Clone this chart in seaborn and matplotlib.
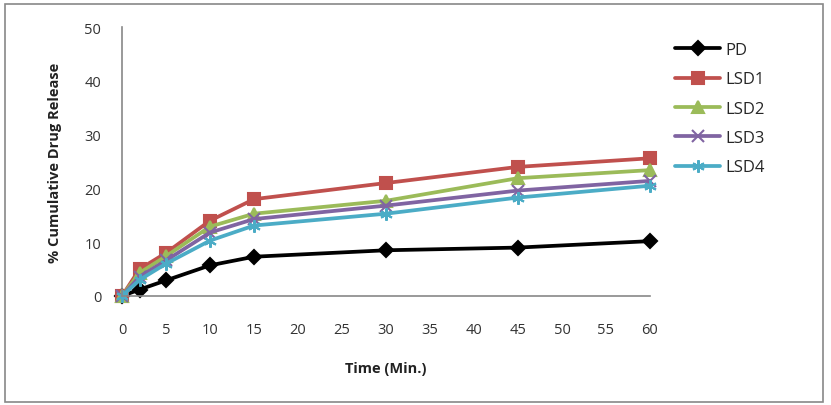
import pandas as pd
import matplotlib.pyplot as plt
import matplotlib.patches as mpatches
import seaborn as sns

# 時間 (分) と各製剤の累積薬物放出率
time_min = [0, 2, 5, 10, 15, 30, 45, 60]
pd_rel = [0, 1.2, 2.9, 5.7, 7.3, 8.5, 9.0, 10.2]
lsd1 = [0, 5.0, 8.0, 14.0, 18.0, 21.0, 24.0, 25.6]
lsd2 = [0, 4.3, 7.4, 12.9, 15.3, 17.7, 21.9, 23.4]
lsd3 = [0, 3.6, 6.6, 11.8, 14.3, 16.8, 19.6, 21.4]
lsd4 = [0, 3.0, 6.0, 10.3, 13.1, 15.3, 18.3, 20.5]

series = {"PD": pd_rel, "LSD1": lsd1, "LSD2": lsd2, "LSD3": lsd3, "LSD4": lsd4}
colors = {"PD": "#000000", "LSD1": "#C0504D", "LSD2": "#9BBB59",
          "LSD3": "#8064A2", "LSD4": "#4BACC6"}
markers = {"PD": "D", "LSD1": "s", "LSD2": "^", "LSD3": "x", "LSD4": (6, 2, 0)}
msizes = {"PD": 7, "LSD1": 9, "LSD2": 8, "LSD3": 8, "LSD4": 9}

rows = []
for name, vals in series.items():
    for t, v in zip(time_min, vals):
        rows.append({"Time": t, "Release": v, "Formulation": name})
data = pd.DataFrame(rows)

sns.set_style("white")
plt.rcParams["font.family"] = ["Open Sans", "DejaVu Sans"]

fig = plt.figure(figsize=(8.31, 4.06), dpi=100)
ax = fig.add_axes([122 / 831, 1 - 297 / 406, (650 - 122) / 831, (297 - 28) / 406])

for name in series:
    sub = data[data["Formulation"] == name]
    sns.lineplot(x="Time", y="Release", data=sub, ax=ax, color=colors[name],
                 marker=markers[name], markersize=msizes[name], linewidth=2.7,
                 markeredgecolor=colors[name], markeredgewidth=1.5, label=name,
                 errorbar=None, clip_on=False)

ax.set_xlim(0, 60)
ax.set_ylim(0, 50)
ax.set_xticks(range(0, 61, 5))
ax.set_yticks(range(0, 51, 10))
ax.tick_params(axis="y", labelsize=10.5, length=0, pad=15, colors="#333333")
ax.tick_params(axis="x", labelsize=10.5, length=0, pad=19, colors="#333333")
for sp in ["top", "right"]:
    ax.spines[sp].set_visible(False)
for sp in ["left", "bottom"]:
    ax.spines[sp].set_color("#888888")
    ax.spines[sp].set_linewidth(1.2)

ax.set_xlabel("Time (Min.)", fontsize=10.5, fontweight="bold", labelpad=17,
              color="#222222")
ax.set_ylabel("% Cumulative Drug Release", fontsize=10.5, fontweight="bold",
              labelpad=16, color="#222222")

leg = ax.legend(loc="upper left", bbox_to_anchor=(1.019, 1.0), frameon=False,
                fontsize=12, handlelength=2.7, labelspacing=0.8, handletextpad=0.3)

# グラフ全体の枠線
fig.patches.append(mpatches.Rectangle((5 / 831, 3 / 406), 818 / 831, 398 / 406,
                                      transform=fig.transFigure, fill=False,
                                      edgecolor="#888888", linewidth=1.2))

plt.savefig("out.png", dpi=100)
